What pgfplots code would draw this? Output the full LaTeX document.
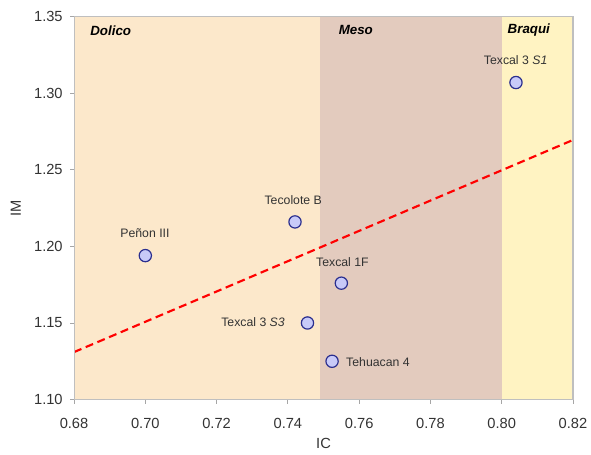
\documentclass[border=0pt]{standalone}
\usepackage{pgfplots}
\pgfplotsset{compat=1.18}
\usepackage{fontspec}
\setmainfont{Liberation Sans}
\definecolor{dolico}{HTML}{FCE8CB}
\definecolor{meso}{HTML}{E3CBBE}
\definecolor{braqui}{HTML}{FFF3C2}
\definecolor{mfill}{HTML}{C8CAF8}
\definecolor{mdraw}{HTML}{2B2F8F}
\definecolor{txt}{HTML}{333333}
\begin{document}
\begin{tikzpicture}
\begin{axis}[
  scale only axis,
  width=374pt, height=287pt,
  xmin=0.68, xmax=0.82, ymin=1.10, ymax=1.35,
  xtick={0.68,0.70,...,0.821},
  ytick={1.10,1.15,...,1.351},
  /pgf/number format/assume math mode=true,
  xticklabel style={/pgf/number format/.cd, fixed, fixed zerofill, precision=2, /tikz/.cd, yshift=-7.5pt},
  yticklabel style={/pgf/number format/.cd, fixed, fixed zerofill, precision=2, /tikz/.cd, xshift=-2pt},
  ticklabel style={font=\fontsize{11}{13}\selectfont, text=txt},
  tick align=outside,
  xtick pos=bottom, ytick pos=left,
  major tick length=3pt,
  tick style={draw=gray!70, line width=0.6pt},
  axis line style={draw=gray!50, line width=0.8pt},
  xlabel={IC}, ylabel={IM},
  label style={font=\fontsize{11}{13}\selectfont, text=txt},
  xlabel style={yshift=-4pt, inner sep=0pt},
  ylabel style={yshift=3pt},
  axis on top,
  clip=true,
]
\addplot[fill=dolico, draw=none] coordinates {(0.68,1.10) (0.749,1.10) (0.749,1.35) (0.68,1.35)} -- cycle;
\addplot[fill=meso, draw=none] coordinates {(0.749,1.10) (0.80,1.10) (0.80,1.35) (0.749,1.35)} -- cycle;
\addplot[fill=braqui, draw=none] coordinates {(0.80,1.10) (0.82,1.10) (0.82,1.35) (0.80,1.35)} -- cycle;
\addplot[red, line width=1.6pt, dash pattern=on 6pt off 3.5pt] coordinates {(0.68,1.131) (0.82,1.2695)};
\addplot[only marks, mark=*, mark size=4.6pt, mark options={fill=mfill, draw=mdraw, line width=0.9pt}] coordinates {
(0.700,1.194) (0.742,1.216) (0.804,1.307) (0.755,1.176) (0.7455,1.150) (0.7524,1.125)};
\coordinate (ll) at (rel axis cs:0,0);
\coordinate (ur) at (rel axis cs:1,1);
\draw[gray!70, line width=0.8pt] (rel axis cs:0,1) -- (rel axis cs:0,0) -- (rel axis cs:1,0);
\begin{scope}[font=\fontsize{9.2}{11}\selectfont, text=txt, inner sep=0pt]
\node[anchor=west, font=\fontsize{10}{12}\selectfont\bfseries\itshape, text=black] at (axis cs:0.6845,1.341) {Dolico};
\node[anchor=west, font=\fontsize{10}{12}\selectfont\bfseries\itshape, text=black] at (axis cs:0.7542,1.341) {Meso};
\node[anchor=west, font=\fontsize{10}{12}\selectfont\bfseries\itshape, text=black] at (axis cs:0.8016,1.341) {Braqui};
\node at (axis cs:0.8039,1.3218) {Texcal 3 \textit{S1}};
\node at (axis cs:0.7415,1.2303) {Tecolote B};
\node at (axis cs:0.6999,1.2085) {Peñon III};
\node at (axis cs:0.7553,1.190) {Texcal 1F};
\node[anchor=east] at (axis cs:0.7392,1.1507) {Texcal 3 \textit{S3}};
\node[anchor=west] at (axis cs:0.7563,1.1246) {Tehuacan 4};
\end{scope}
\end{axis}
\pgfresetboundingbox
\path ([shift={(-55.5pt,-41pt)}]ll) rectangle ([shift={(13.5pt,12.5pt)}]ur);
\end{tikzpicture}
\end{document}
